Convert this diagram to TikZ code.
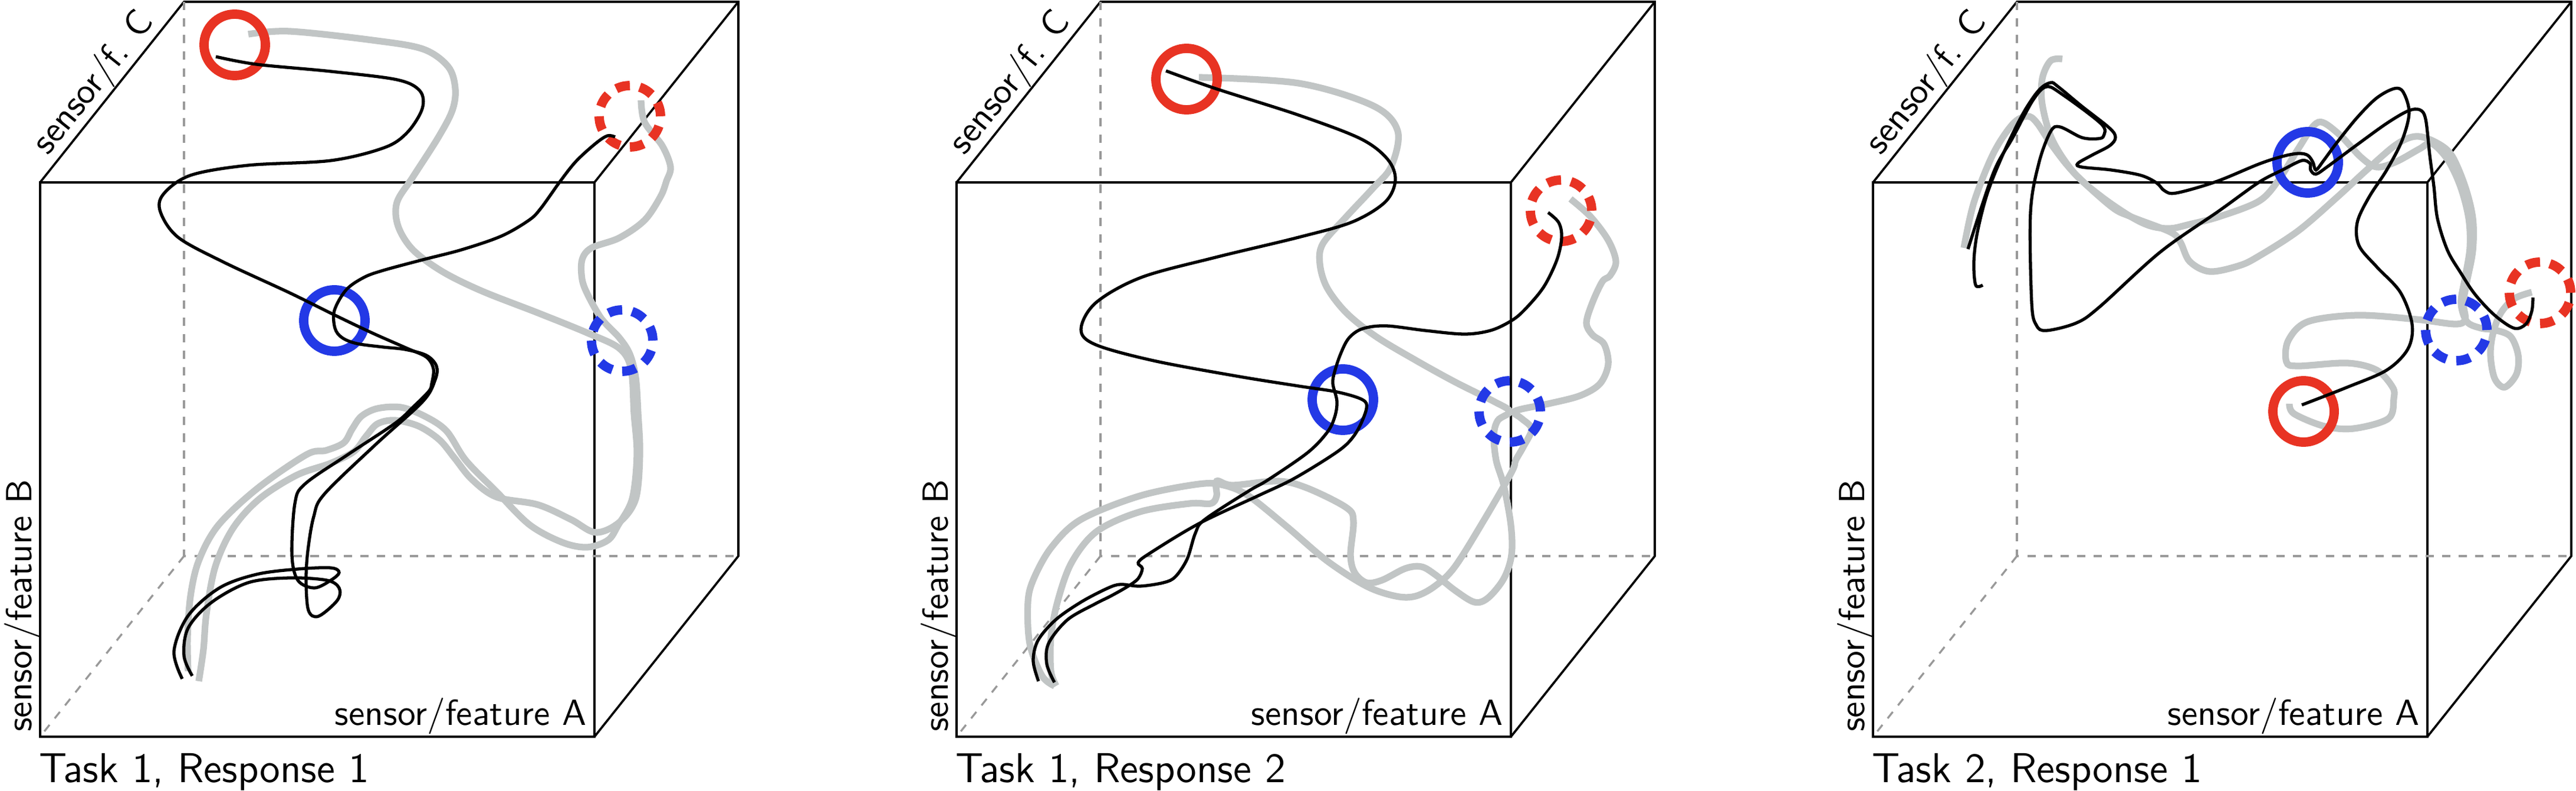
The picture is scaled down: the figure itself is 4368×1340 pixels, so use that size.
\documentclass[tikz,border=0pt]{standalone}
\usepackage{tikz}
\usetikzlibrary{shapes, positioning}
\definecolor{ringred}{RGB}{232,51,35}
\definecolor{ringblue}{RGB}{35,57,230}
\definecolor{refgray}{RGB}{193,197,197}
\definecolor{edgegray}{RGB}{153,153,153}
\tikzset{%
  cubeedge/.style={draw, line width=1.05pt},
  hiddenedge/.style={draw=edgegray, line width=0.95pt, dash pattern=on 4pt off 4pt},
  response/.style={draw, line width=1.5pt, smooth, tension=0.55},
  reference/.style={draw=refgray, line width=3.2pt, smooth, tension=0.55},
  ring/.style={draw, circle, line width=4.5pt, minimum size=1.04cm, inner sep=0pt},
  startring/.style={ring, draw=ringred},
  endring/.style={ring, draw=ringblue},
  refstartring/.style={startring, dash pattern=on 6.8pt off 4.82pt},
  refendring/.style={endring, dash pattern=on 6.8pt off 4.82pt},
  axislabel/.style={font=\sffamily\fontsize{10}{12}\selectfont, scale=1.75, inner sep=0pt},
  tasklabel/.style={font=\sffamily\fontsize{11}{13}\selectfont, scale=1.83, inner sep=0pt, anchor=base west}}
\begin{document}
\begin{tikzpicture}[x=0.01cm, y=-0.01cm]
  \useasboundingbox (0,0) rectangle (4368,1340);
  \foreach \px/\ttl [count=\i] in {68/{Task 1, Response 1}, 1622/{Task 1, Response 2}, 3176/{Task 2, Response 1}} {
    % front face, then the hidden back edges
    \coordinate (ftl\i) at (\px,309);
    \coordinate (fbr\i) at (\px+940,1248);
    \coordinate (btl\i) at (\px+244,3);
    \coordinate (bbl\i) at (\px+244,942);
    \draw[cubeedge] (ftl\i) rectangle (fbr\i);
    \draw[cubeedge] (ftl\i) -- (btl\i) -- (\px+1184,3) -- (\px+1184,942) -- (fbr\i);
    \draw[cubeedge] (\px+940,309) -- (\px+1184,3);
    \draw[hiddenedge] (btl\i) -- (bbl\i) -- (\px+1184,942);
    \draw[hiddenedge] (bbl\i) -- (\px,1248);
    \node[axislabel, anchor=base east] (labA\i) at (\px+928,1228) {sensor/feature A};
    \node[axislabel, anchor=base west, rotate=90] (labB\i) at (\px-15,1241) {sensor/feature B};
    \node[axislabel, anchor=base, rotate=51.4] (labC\i) at (\px+104,151) {sensor/f. C};
    \node[tasklabel] (title\i) at (\px-3,1325) {\ttl};
  }

  % Task 1, Response 1
  \draw[reference] plot coordinates {(421,58) (491,53) (631,68) (717,83) (760,113) (772,150) (767,187) (743,233) (700,300) (673,343) (675,383) (700,423) (750,460) (817,493) (912,530) (996,564) (1050,590) (1070,625) (1075,700) (1080,770) (1072,845) (1048,890) (1031,915) (996,927) (954,919) (898,889) (842,833) (790,780) (757,730) (720,705) (680,690) (640,692) (613,705) (597,727) (583,750) (553,763) (520,770) (437,827) (370,890) (337,950) (323,1010) (318,1080) (319,1137)};
  \draw[reference] plot coordinates {(1087,170) (1093,207) (1123,247) (1137,283) (1130,307) (1120,333) (1093,373) (1050,403) (1003,420) (987,440) (987,473) (997,500) (1020,540) (1050,572) (1068,600) (1078,640) (1082,700) (1085,770) (1078,845) (1050,885) (1010,902) (968,880) (912,855) (842,842) (800,812) (770,775) (745,745) (710,722) (670,712) (640,718) (620,740) (600,765) (560,785) (503,805) (440,845) (395,895) (365,960) (350,1040) (345,1100) (337,1154)};
  \node[startring] (start1) at (398,76) {};
  \node[endring] (end1) at (567,543) {};
  \node[refstartring] (refstart1) at (1068,197) {};
  \node[refendring] (refend1) at (1055,577) {};
  \draw[response] plot coordinates {(366,96) (435,109) (561,121) (673,135) (712,154) (716,184) (691,224) (652,250) (561,272) (421,280) (323,297) (277,329) (272,359) (302,402) (379,444) (491,496) (568,534) (631,564) (690,590) (723,605) (735,625) (732,650) (727,663) (700,690) (670,717) (590,770) (517,820) (500,853) (495,940) (505,983) (533,996) (561,983) (575,970) (561,962) (505,964) (435,973) (372,996) (319,1043) (295,1103) (309,1150)};
  \draw[response] plot coordinates {(1043,232) (1030,230) (1010,243) (977,273) (950,307) (917,353) (897,373) (850,400) (783,423) (717,440) (650,458) (617,470) (587,491) (567,526) (568,556) (580,572) (605,582) (650,588) (687,592) (723,602) (740,620) (738,643) (717,680) (637,753) (550,837) (532,875) (522,933) (519,983) (523,1034) (540,1044) (572,1017) (575,996) (554,983) (491,979) (421,987) (358,1021) (319,1064) (312,1111) (326,1145)};

  % Task 1, Response 2
  \draw[reference] plot coordinates {(2033,131) (2202,141) (2328,179) (2370,222) (2359,282) (2327,320) (2283,367) (2243,413) (2238,447) (2250,487) (2283,530) (2333,570) (2400,610) (2467,647) (2533,680) (2560,697) (2540,712) (2533,737) (2537,780) (2550,823) (2562,890) (2563,940) (2550,980) (2523,1013) (2500,1020) (2467,1000) (2433,973) (2410,960) (2383,963) (2343,983) (2317,987) (2297,970) (2290,940) (2295,883) (2283,860) (2217,827) (2167,815) (2090,822) (2063,815) (2063,840) (2053,853) (2017,853) (1933,867) (1860,900) (1817,953) (1793,1020) (1782,1080) (1782,1137) (1791,1162)};
  \draw[reference] plot coordinates {(2663,337) (2697,367) (2727,407) (2740,443) (2730,467) (2717,477) (2700,513) (2690,547) (2700,567) (2720,583) (2727,617) (2713,650) (2680,670) (2630,683) (2580,693) (2567,699) (2580,709) (2597,727) (2583,757) (2570,780) (2563,800) (2517,880) (2467,960) (2433,993) (2400,1010) (2367,1010) (2317,993) (2250,950) (2183,893) (2117,840) (2075,822) (2033,820) (1933,840) (1833,880) (1783,927) (1753,980) (1743,1020) (1746,1090) (1767,1145) (1788,1162)};
  \node[startring] (start2) at (2012,134) {};
  \node[endring] (end2) at (2277,677) {};
  \node[refstartring] (refstart2) at (2647,357) {};
  \node[refendring] (refend2) at (2560,697) {};
  \draw[response] plot coordinates {(1977,120) (2061,150) (2202,195) (2307,235) (2353,270) (2366,305) (2349,342) (2293,376) (2202,402) (2061,436) (1935,470) (1858,513) (1833,558) (1858,584) (1956,611) (2096,637) (2202,654) (2267,664) (2310,677) (2317,692) (2303,727) (2283,753) (2250,777) (2190,813) (2133,840) (2033,887) (1950,937) (1930,953) (1937,963) (1930,980) (1913,993) (1883,1010) (1857,1023) (1810,1050) (1778,1090) (1775,1125) (1788,1156)};
  \draw[response] plot coordinates {(2625,360) (2643,377) (2648,402) (2640,440) (2617,487) (2583,527) (2560,545) (2527,560) (2483,566) (2417,560) (2350,552) (2310,557) (2287,573) (2273,600) (2263,630) (2260,650) (2267,680) (2263,707) (2250,733) (2217,767) (2150,813) (2117,832) (2043,880) (2027,903) (2013,947) (1993,977) (1973,987) (1933,993) (1900,990) (1877,997) (1833,1020) (1790,1050) (1760,1085) (1752,1120) (1761,1154)};

  % Task 2, Response 1
  \draw[reference] plot coordinates {(3882,684) (3890,701) (3941,722) (3991,726) (4050,709) (4059,675) (4057,656) (4030,627) (3980,615) (3897,620) (3877,613) (3880,577) (3913,545) (3997,534) (4097,541) (4163,549) (4180,541) (4177,513) (4183,477) (4193,424) (4193,370) (4180,316) (4157,263) (4130,241) (4097,231) (4063,245) (4013,288) (3963,334) (3897,391) (3830,434) (3797,450) (3747,460) (3713,443) (3697,410) (3680,393) (3613,367) (3580,350) (3517,293) (3480,247) (3453,207) (3437,197) (3413,210) (3380,260) (3347,343) (3330,420)};
  \draw[reference] plot coordinates {(4293,495) (4263,506) (4240,531) (4227,566) (4223,602) (4230,641) (4247,656) (4267,634) (4270,602) (4257,570) (4230,559) (4207,556) (4183,545) (4173,513) (4180,470) (4188,420) (4186,370) (4172,316) (4150,270) (4123,243) (4103,252) (4063,274) (4030,283) (4003,266) (3970,231) (3940,208) (3923,213) (3897,252) (3863,306) (3830,341) (3763,367) (3713,380) (3680,387) (3647,383) (3613,367) (3563,333) (3517,293) (3480,237) (3463,177) (3463,133) (3477,103) (3497,100)};
  \node[startring] (start3) at (3906,697) {};
  \node[endring] (end3) at (3913,275) {};
  \node[refstartring] (refstart3) at (4307,496) {};
  \node[refendring] (refend3) at (4165,559) {};
  \draw[response] plot coordinates {(3903,686) (3980,656) (4047,627) (4083,591) (4090,549) (4070,495) (4030,452) (4000,416) (3997,377) (4017,334) (4047,288) (4073,238) (4085,191) (4075,156) (4060,150) (4030,166) (3997,199) (3963,241) (3940,272) (3927,288) (3922,275) (3913,263) (3897,260) (3870,265) (3830,278) (3757,308) (3690,327) (3670,323) (3657,310) (3630,297) (3580,288) (3530,283) (3523,277) (3547,263) (3577,247) (3587,233) (3577,217) (3530,180) (3490,147) (3477,140) (3457,153) (3430,193) (3397,260) (3370,327) (3353,393) (3347,443) (3350,483) (3362,483)};
  \draw[response] plot coordinates {(4295,504) (4293,527) (4283,549) (4263,556) (4230,534) (4197,499) (4173,463) (4150,424) (4133,370) (4127,316) (4120,263) (4113,202) (4103,186) (4083,188) (4047,209) (3997,245) (3947,282) (3927,295) (3918,288) (3917,277) (3903,272) (3870,288) (3830,309) (3763,357) (3663,427) (3560,520) (3521,547) (3470,560) (3453,551) (3445,513) (3443,360) (3457,277) (3477,223) (3493,215) (3530,233) (3557,235) (3567,230) (3563,210) (3497,160) (3470,147) (3447,170) (3413,233) (3380,293) (3337,422)};
\end{tikzpicture}
\end{document}
